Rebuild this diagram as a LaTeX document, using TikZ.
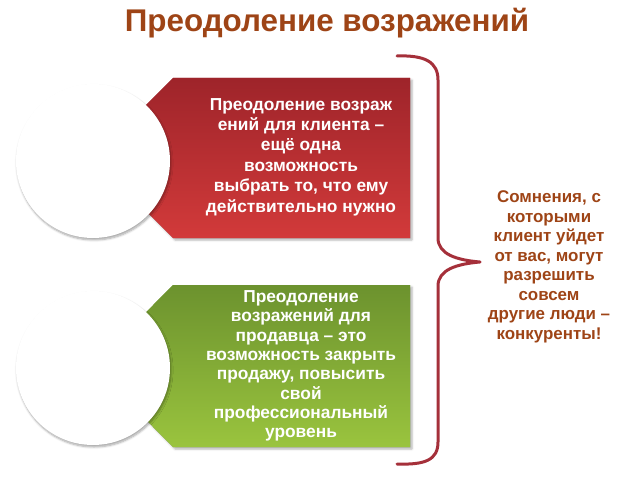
\documentclass[tikz,border=0pt]{standalone}
\usepackage{fontspec}
\setmainfont{Liberation Sans}
\usetikzlibrary{shadows.blur}
\definecolor{titlebrown}{RGB}{158,68,22}
\definecolor{redtop}{RGB}{158,36,42}
\definecolor{redbot}{RGB}{210,58,58}
\definecolor{greentop}{RGB}{108,146,46}
\definecolor{greenbot}{RGB}{154,196,62}
\definecolor{bracecol}{RGB}{165,48,58}
\tikzset{
  boxtext/.style={text=white, font=\bfseries\fontsize{17.4}{20.5}\selectfont, align=center, inner sep=0pt},
  sidetext/.style={text=titlebrown, font=\bfseries\fontsize{17}{19.6}\selectfont, align=center, inner sep=0pt},
  disc/.style={fill=white, blur shadow={shadow xshift=1bp, shadow yshift=-2bp, shadow blur steps=6, shadow opacity=35}},
  boxshadow/.style={blur shadow={shadow xshift=2bp, shadow yshift=-2bp, shadow blur steps=5, shadow opacity=30}},
}
\begin{document}
\begin{tikzpicture}[x=1bp,y=-1bp]
\useasboundingbox (0,0) rectangle (640,480);
\node[text=titlebrown, font=\bfseries\fontsize{31.5}{34}\selectfont, inner sep=0pt] (title) at (327,23) {Преодоление возражений};
% red block
\path[boxshadow, fill=redtop] (173,78) -- (410,78) -- (410,238) -- (173,238) -- (93,158) -- cycle;
\shade[top color=redtop, bottom color=redbot] (173,78) -- (410,78) -- (410,238) -- (173,238) -- (93,158) -- cycle;
\node[boxtext] (t1) at (301,157) {Преодоление возраж\\ений для клиента –\\ещё одна\\возможность\\выбрать то, что ему\\действительно нужно};
% green block
\path[boxshadow, fill=greentop] (173,285) -- (410,285) -- (410,447) -- (173,447) -- (93,366) -- cycle;
\shade[top color=greentop, bottom color=greenbot] (173,285) -- (410,285) -- (410,447) -- (173,447) -- (93,366) -- cycle;
\node[boxtext, font=\bfseries\fontsize{17.4}{19.4}\selectfont] (t2) at (301,366) {Преодоление\\возражений  для\\продавца – это\\возможность закрыть\\продажу, повысить\\свой\\профессиональный\\уровень};
% circles
\node[disc, circle, minimum size=154bp, inner sep=0pt] (c1) at (93,161) {};
\node[disc, circle, minimum size=154bp, inner sep=0pt] (c2) at (93,368) {};
% brace
\draw[bracecol, line width=3bp, line cap=round, line join=round]
  (397,56) .. controls (425,55) and (438,62) .. (438,80) -- (438,238)
  .. controls (438,254) and (456,260) .. (480,262)
  .. controls (456,264) and (438,270) .. (438,286) -- (438,442)
  .. controls (438,460) and (425,465) .. (397,464);
\node[sidetext] (side) at (549,267) {Сомнения, с\\которыми\\клиент уйдет\\от вас, могут\\разрешить\\совсем\\другие люди –\\конкуренты!};
\end{tikzpicture}
\end{document}
